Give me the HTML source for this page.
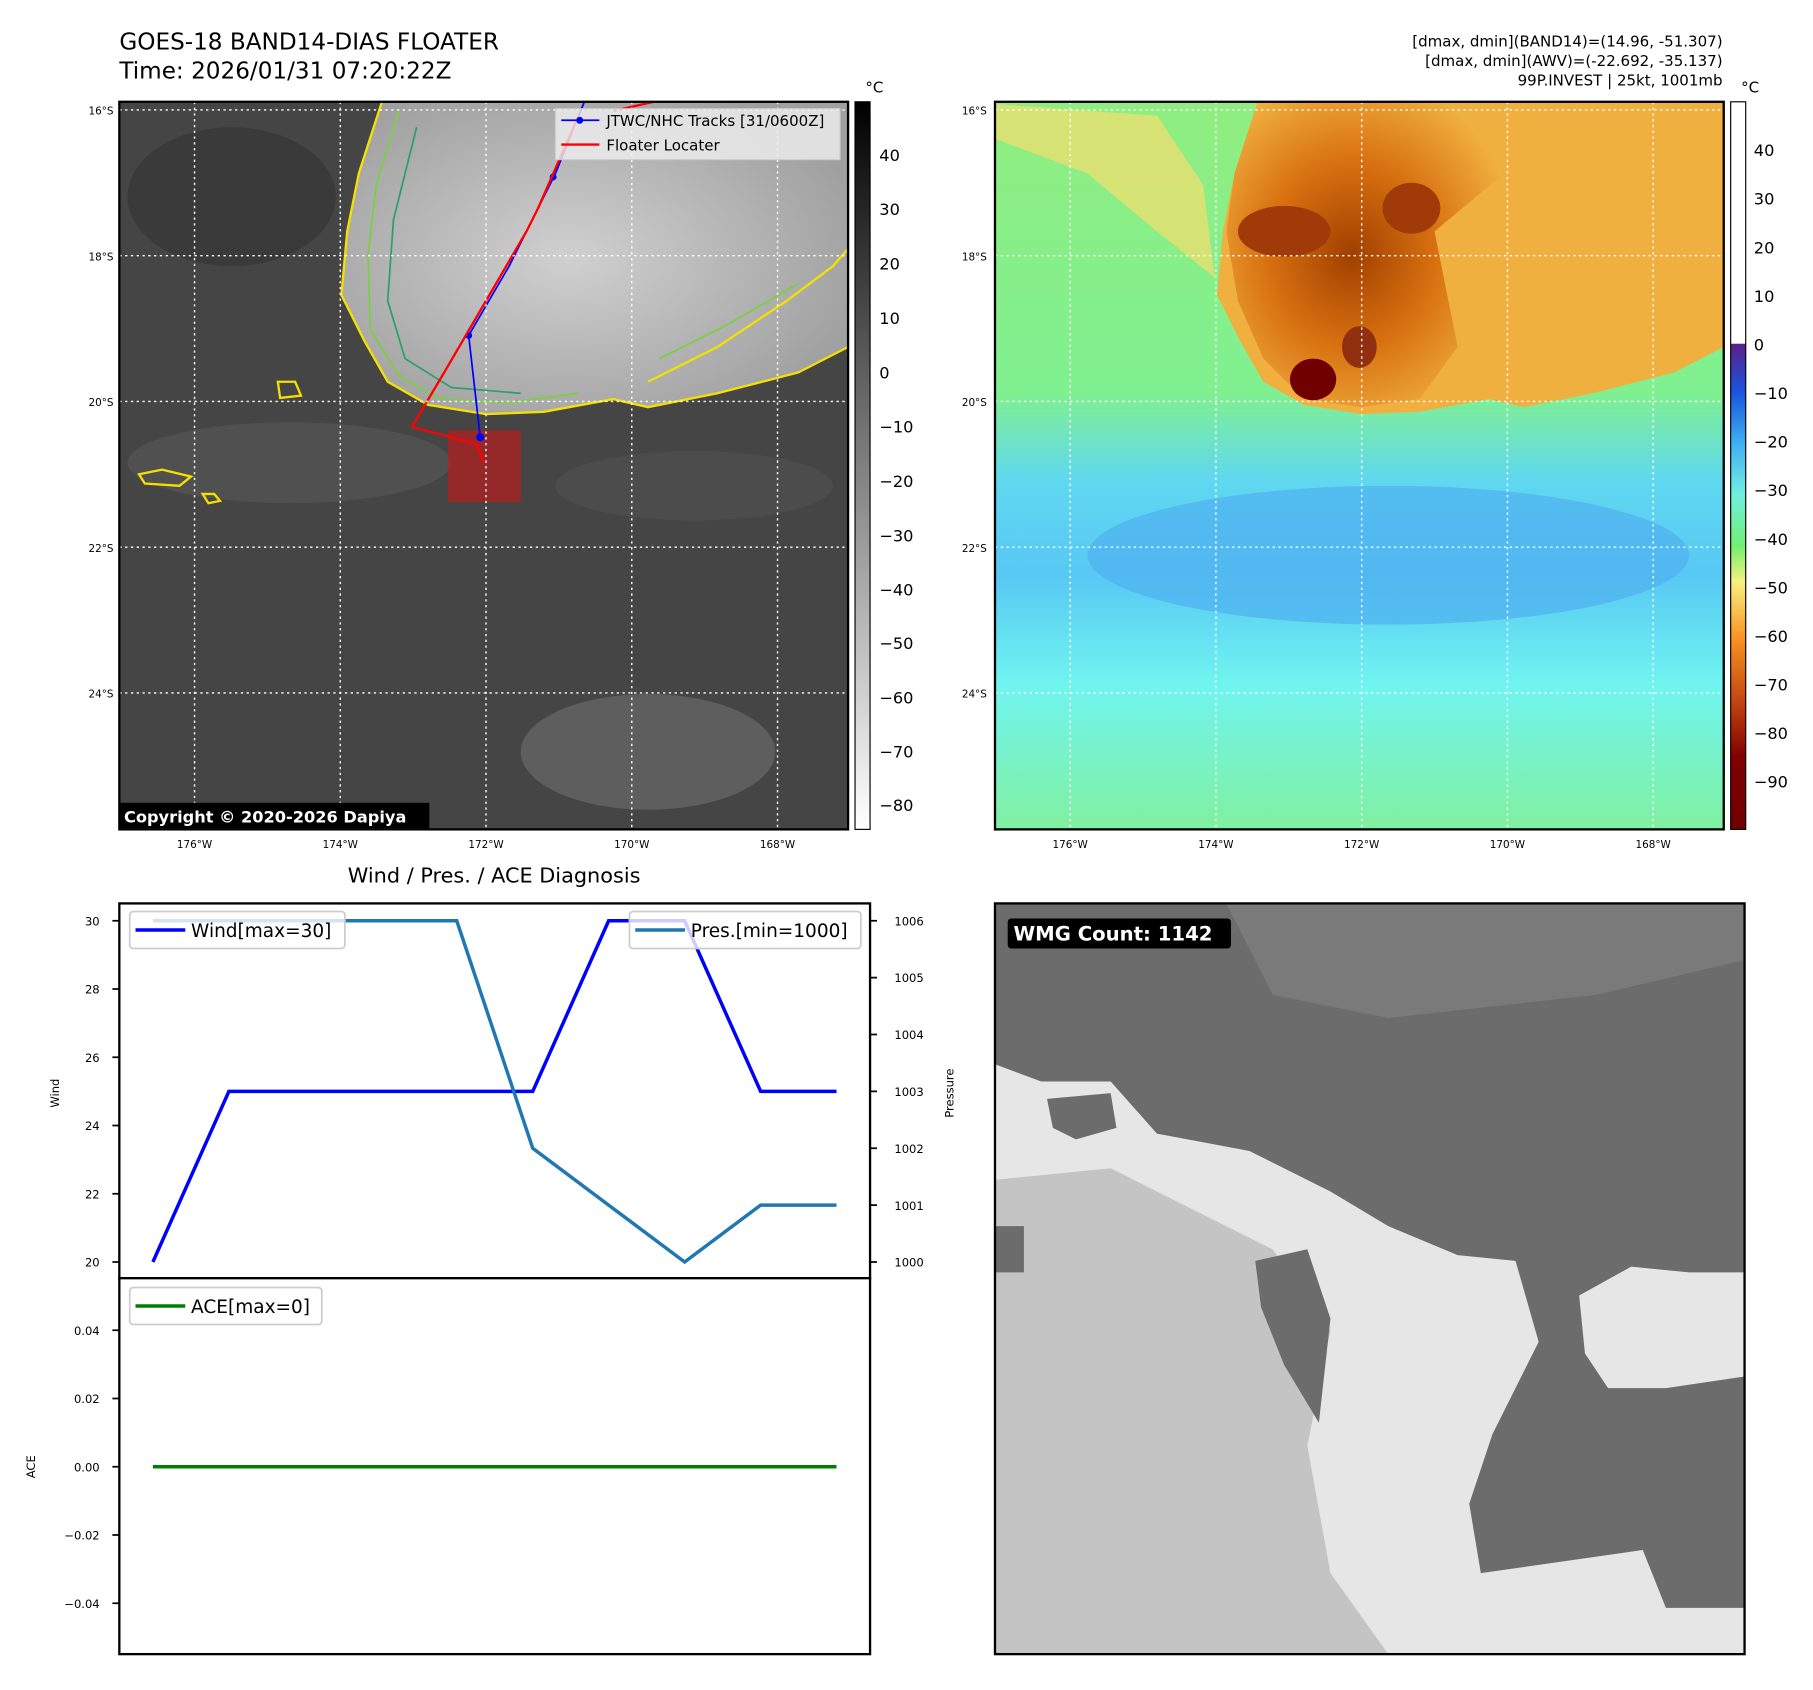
<!DOCTYPE html>
<html><head><meta charset="utf-8"><style>
html,body{margin:0;padding:0;background:#fff}
svg{display:block;font-family:"DejaVu Sans","Liberation Sans",sans-serif}
</style></head><body>
<svg width="1813" height="1690" viewBox="0 0 1567 1461" xmlns="http://www.w3.org/2000/svg">
<defs>
<linearGradient id="gcb" x1="0" y1="0" x2="0" y2="1"><stop offset="0" stop-color="#000"/><stop offset="1" stop-color="#fff"/></linearGradient>
<linearGradient id="ccb" x1="0" y1="0" x2="0" y2="1">
<stop offset="0" stop-color="#fff"/><stop offset="0.332" stop-color="#fff"/><stop offset="0.333" stop-color="#5a1f8a"/>
<stop offset="0.40" stop-color="#1a55e0"/><stop offset="0.47" stop-color="#3fb0f0"/><stop offset="0.54" stop-color="#70f0e0"/>
<stop offset="0.61" stop-color="#70f070"/><stop offset="0.66" stop-color="#f8f080"/><stop offset="0.74" stop-color="#f89020"/>
<stop offset="0.83" stop-color="#c04010"/><stop offset="0.9" stop-color="#800000"/><stop offset="1" stop-color="#700000"/></linearGradient>
<linearGradient id="m2bg" x1="0" y1="0" x2="0" y2="1">
<stop offset="0" stop-color="#90ee80"/><stop offset="0.4" stop-color="#80f090"/><stop offset="0.52" stop-color="#60d8f0"/>
<stop offset="0.65" stop-color="#58c8f4"/><stop offset="0.8" stop-color="#70f4f0"/><stop offset="1" stop-color="#80f0a0"/></linearGradient>
<radialGradient id="storm2" cx="0.45" cy="0.5" r="0.6"><stop offset="0" stop-color="#a04000"/><stop offset="0.5" stop-color="#d87010"/><stop offset="1" stop-color="#f0b040"/></radialGradient>
<radialGradient id="storm1" cx="0.45" cy="0.5" r="0.6"><stop offset="0" stop-color="#d0d0d0"/><stop offset="1" stop-color="#a0a0a0"/></radialGradient>
</defs>

<text x="103" y="43" font-size="20">GOES-18 BAND14-DIAS FLOATER</text>
<text x="103" y="68" font-size="20">Time: 2026/01/31 07:20:22Z</text>
<g font-size="13" text-anchor="end">
<text x="1489" y="40">[dmax, dmin](BAND14)=(14.96, -51.307)</text>
<text x="1489" y="57">[dmax, dmin](AWV)=(-22.692, -35.137)</text>
<text x="1489" y="74">99P.INVEST | 25kt, 1001mb</text>
</g>

<g>
<rect x="103" y="88" width="630" height="629" fill="#454545"/>
<ellipse cx="200" cy="170" rx="90" ry="60" fill="#3a3a3a"/>
<ellipse cx="560" cy="650" rx="110" ry="50" fill="#5e5e5e"/>
<ellipse cx="250" cy="400" rx="140" ry="35" fill="#505050"/>
<ellipse cx="600" cy="420" rx="120" ry="30" fill="#4c4c4c"/>
<polygon points="330,88 310,150 300,200 295,255 315,295 335,330 370,350 420,358 470,356 530,345 560,352 620,340 690,322 733,300 733,88" fill="url(#storm1)"/>
<polyline points="330,88 310,150 300,200 295,255 315,295 335,330 370,350 420,358 470,356 530,345 560,352 620,340 690,322 733,300" fill="none" stroke="#f5e000" stroke-width="2"/>
<polyline points="345,95 325,160 318,220 320,285 345,325 380,345 440,348 500,340" fill="none" stroke="#7ad040" stroke-width="1.5"/>
<polyline points="360,110 340,190 335,260 350,310 390,335 450,340" fill="none" stroke="#2aa070" stroke-width="1.5"/>
<polyline points="560,330 620,300 680,260 720,230 733,215" fill="none" stroke="#f5e000" stroke-width="2"/>
<polyline points="570,310 630,280 690,245" fill="none" stroke="#7ad040" stroke-width="1.5"/>
<path d="M120,410 l20,-4 l25,6 l-10,8 l-30,-2z M175,427 l10,0 l5,6 l-10,2z M240,330 l15,0 l5,12 l-18,2z" fill="none" stroke="#f5e000" stroke-width="2"/>
<rect x="387" y="372" width="63" height="62" fill="#c01818" fill-opacity="0.65"/>
<polyline points="505,88 480,150 440,230 405,290 415,378" fill="none" stroke="#0000ff" stroke-width="1.5"/>
<circle cx="478" cy="153" r="3" fill="#0000ff"/><circle cx="405" cy="290" r="3" fill="#0000ff"/><circle cx="415" cy="378" r="3.5" fill="#0000ff"/>
<polyline points="500,100 465,180 455,200 420,260 385,320 356,369 412,384 418,400" fill="none" stroke="#ff0000" stroke-width="2"/>
<polyline points="565,88 530,96" fill="none" stroke="#ff0000" stroke-width="2"/>
<g stroke="#fff" stroke-width="1.2" stroke-dasharray="2,3">
<line x1="168" y1="88" x2="168" y2="717"/><line x1="294" y1="88" x2="294" y2="717"/><line x1="420" y1="88" x2="420" y2="717"/><line x1="546" y1="88" x2="546" y2="717"/><line x1="672" y1="88" x2="672" y2="717"/>
<line x1="103" y1="95" x2="733" y2="95"/><line x1="103" y1="221" x2="733" y2="221"/><line x1="103" y1="347" x2="733" y2="347"/><line x1="103" y1="473" x2="733" y2="473"/><line x1="103" y1="599" x2="733" y2="599"/>
</g>
<rect x="480" y="94" width="246" height="44" fill="#f0f0f0" fill-opacity="0.8" stroke="#ccc"/>
<line x1="485" y1="104" x2="518" y2="104" stroke="#0000ff" stroke-width="1.5"/><circle cx="501" cy="104" r="3" fill="#0000ff"/>
<text x="524" y="109" font-size="13">JTWC/NHC Tracks [31/0600Z]</text>
<line x1="485" y1="125" x2="518" y2="125" stroke="#ff0000" stroke-width="2"/>
<text x="524" y="130" font-size="13">Floater Locater</text>
<rect x="103" y="694" width="268" height="22" fill="#000"/>
<text x="107" y="711" font-size="14" font-weight="bold" fill="#fff">Copyright © 2020-2026 Dapiya</text>
<rect x="103" y="88" width="630" height="629" fill="none" stroke="#000" stroke-width="2"/>
</g>
<g font-size="9">
<text x="98" y="99" text-anchor="end">16°S</text><text x="98" y="225" text-anchor="end">18°S</text><text x="98" y="351" text-anchor="end">20°S</text><text x="98" y="477" text-anchor="end">22°S</text><text x="98" y="603" text-anchor="end">24°S</text>
<text x="168" y="733" text-anchor="middle">176°W</text><text x="294" y="733" text-anchor="middle">174°W</text><text x="420" y="733" text-anchor="middle">172°W</text><text x="546" y="733" text-anchor="middle">170°W</text><text x="672" y="733" text-anchor="middle">168°W</text>
</g>
<g>
<rect x="739" y="88" width="13" height="629" fill="url(#gcb)" stroke="#000" stroke-width="1"/>
<text x="748" y="80" font-size="13">°C</text>
<g font-size="14">
<text x="760" y="139">40</text><text x="760" y="186">30</text><text x="760" y="233">20</text><text x="760" y="280">10</text><text x="760" y="327">0</text>
<text x="760" y="374">−10</text><text x="760" y="421">−20</text><text x="760" y="468">−30</text><text x="760" y="515">−40</text><text x="760" y="561">−50</text><text x="760" y="608">−60</text><text x="760" y="655">−70</text><text x="760" y="701">−80</text>
</g></g>

<g>
<rect x="860" y="88" width="630" height="629" fill="url(#m2bg)"/>
<ellipse cx="1200" cy="480" rx="260" ry="60" fill="#4eb0f0" fill-opacity="0.7"/>
<polygon points="1087,88 1067,150 1057,200 1052,255 1072,295 1092,330 1127,350 1177,358 1227,356 1287,345 1317,352 1377,340 1447,322 1490,300 1490,88" fill="#f0b040"/>
<polygon points="1087,88 1067,150 1060,200 1070,260 1092,310 1127,345 1177,352 1227,345 1260,300 1240,200 1300,150 1260,88" fill="url(#storm2)"/>
<polygon points="860,120 940,150 1000,200 1050,240 1040,160 1000,100 860,90" fill="#e8e070" fill-opacity="0.8"/>
<ellipse cx="1135" cy="328" rx="20" ry="18" fill="#700000"/>
<ellipse cx="1175" cy="300" rx="15" ry="18" fill="#903010"/>
<ellipse cx="1110" cy="200" rx="40" ry="22" fill="#a03a08"/>
<ellipse cx="1220" cy="180" rx="25" ry="22" fill="#a03a08"/>
<g stroke="#fff" stroke-width="1.2" stroke-dasharray="2,3">
<line x1="925" y1="88" x2="925" y2="717"/><line x1="1051" y1="88" x2="1051" y2="717"/><line x1="1177" y1="88" x2="1177" y2="717"/><line x1="1303" y1="88" x2="1303" y2="717"/><line x1="1429" y1="88" x2="1429" y2="717"/>
<line x1="860" y1="95" x2="1490" y2="95"/><line x1="860" y1="221" x2="1490" y2="221"/><line x1="860" y1="347" x2="1490" y2="347"/><line x1="860" y1="473" x2="1490" y2="473"/><line x1="860" y1="599" x2="1490" y2="599"/>
</g>
<rect x="860" y="88" width="630" height="629" fill="none" stroke="#000" stroke-width="2"/>
</g>
<g font-size="9">
<text x="853" y="99" text-anchor="end">16°S</text><text x="853" y="225" text-anchor="end">18°S</text><text x="853" y="351" text-anchor="end">20°S</text><text x="853" y="477" text-anchor="end">22°S</text><text x="853" y="603" text-anchor="end">24°S</text>
<text x="925" y="733" text-anchor="middle">176°W</text><text x="1051" y="733" text-anchor="middle">174°W</text><text x="1177" y="733" text-anchor="middle">172°W</text><text x="1303" y="733" text-anchor="middle">170°W</text><text x="1429" y="733" text-anchor="middle">168°W</text>
</g>
<g>
<rect x="1496" y="88" width="13" height="629" fill="url(#ccb)" stroke="#000" stroke-width="1"/>
<text x="1505" y="80" font-size="13">°C</text>
<g font-size="14">
<text x="1516" y="135">40</text><text x="1516" y="177">30</text><text x="1516" y="219">20</text><text x="1516" y="261">10</text><text x="1516" y="303">0</text>
<text x="1516" y="345">−10</text><text x="1516" y="387">−20</text><text x="1516" y="429">−30</text><text x="1516" y="471">−40</text><text x="1516" y="513">−50</text><text x="1516" y="555">−60</text><text x="1516" y="597">−70</text><text x="1516" y="639">−80</text><text x="1516" y="681">−90</text>
</g></g>

<text x="427" y="763" font-size="18" text-anchor="middle">Wind / Pres. / ACE Diagnosis</text>
<g id="chart">
<rect x="103" y="781" width="649" height="324" fill="#fff" stroke="#000" stroke-width="2"/>
<rect x="103" y="1105" width="649" height="325" fill="#fff" stroke="#000" stroke-width="2"/>
<text transform="translate(51,945) rotate(-90)" font-size="10" text-anchor="middle">Wind</text>
<text transform="translate(824,945) rotate(-90)" font-size="10" text-anchor="middle">Pressure</text>
<text transform="translate(30,1268) rotate(-90)" font-size="10" text-anchor="middle">ACE</text>
</g>

<g>
<rect x="860" y="781" width="648" height="649" fill="#6c6c6c"/>
<polygon points="1060,781 1508,781 1508,830 1380,860 1200,880 1100,860" fill="#7a7a7a"/>
<polygon points="860,920 900,935 960,935 1000,980 1080,995 1150,1030 1200,1060 1260,1085 1310,1090 1330,1160 1290,1240 1270,1300 1280,1360 1420,1340 1440,1390 1508,1390 1508,1430 860,1430" fill="#e6e6e6"/>
<polygon points="860,1020 960,1010 1040,1050 1100,1080 1150,1150 1130,1250 1150,1360 1200,1430 860,1430" fill="#c4c4c4"/>
<polygon points="1085,1090 1130,1080 1150,1140 1140,1230 1110,1180 1090,1130" fill="#6c6c6c"/>
<polygon points="860,1060 885,1060 885,1100 860,1100" fill="#6c6c6c"/>
<polygon points="905,950 960,945 965,975 930,985 910,975" fill="#6c6c6c"/>
<polygon points="1365,1120 1410,1095 1460,1100 1508,1100 1508,1190 1440,1200 1390,1200 1370,1170" fill="#e6e6e6"/>
<rect x="860" y="781" width="648" height="649" fill="none" stroke="#000" stroke-width="2"/>
<rect x="871" y="794" width="193" height="26" rx="3" fill="#000"/>
<text x="876" y="813" font-size="17" font-weight="bold" fill="#fff">WMG Count: 1142</text>
</g>

<script>
const times = [0,1,2,3,4,5,6,7,8,9];
const windVals = [20,25,25,25,25,25,30,30,25,25];
const presVals = [1006,1006,1006,1006,1006,1002,1001,1000,1001,1001];
const aceVals = [0,0,0,0,0,0,0,0,0,0];
const windTicks = [20,22,24,26,28,30];
const presTicks = [1000,1001,1002,1003,1004,1005,1006];
const aceTicks = [-0.04,-0.02,0.00,0.02,0.04];

(function(){
  const NS='http://www.w3.org/2000/svg';
  const g=document.getElementById('chart');
  const xs=t=>132+t*65.67;
  const yW=v=>1091-(v-20)*29.5;
  const yP=v=>1091-(v-1000)*49.17;
  const yA=v=>1268-v*2950;
  function mk(tag,attrs,txt){const e=document.createElementNS(NS,tag);for(const k in attrs)e.setAttribute(k,attrs[k]);if(txt!==undefined)e.textContent=txt;g.appendChild(e);return e;}
  windTicks.forEach(v=>{const y=yW(v);
    const l=mk('line',{x1:97,x2:103,y1:y,y2:y,stroke:'#000','stroke-width':1.5});
    
    
    const t=mk('text',{x:86,y:y+4,'font-size':10,'text-anchor':'end'},String(v));
    
    });
  presTicks.forEach(v=>{const y=yP(v);
    const l=mk('line',{x1:752,x2:758,y1:y,y2:y,stroke:'#000','stroke-width':1.5});
    
    
    const t=mk('text',{x:773,y:y+4,'font-size':10},String(v));
    
    });
  aceTicks.forEach(v=>{const y=yA(v);
    const l=mk('line',{x1:97,x2:103,y1:y,y2:y,stroke:'#000','stroke-width':1.5});
    
    
    const t=mk('text',{x:86,y:y+4,'font-size':10,'text-anchor':'end'},(v<0?'\u2212':'')+Math.abs(v).toFixed(2));
    
    });
  const pts=(arr,f)=>arr.map((v,i)=>xs(times[i]).toFixed(1)+','+f(v).toFixed(1)).join(' ');
  const w=mk('polyline',{points:pts(windVals,yW),fill:'none',stroke:'#0000ff','stroke-width':3});
  
  
  const p=mk('polyline',{points:pts(presVals,yP),fill:'none',stroke:'#1f77b4','stroke-width':3});
  
  
  const a=mk('polyline',{points:pts(aceVals,yA),fill:'none',stroke:'#008000','stroke-width':3});
  
  
  const lw=Math.max(...windVals), lp=Math.min(...presVals), la=Math.max(...aceVals);
  const legs=[[112,788,186,'#0000ff','Wind[max='+lw+']','wind-legend'],[544,788,200,'#1f77b4','Pres.[min='+lp+']','pressure-legend'],[112,1113,166,'#008000','ACE[max='+la+']','ace-legend']];
  legs.forEach(L=>{
    const r=mk('rect',{x:L[0],y:L[1],width:L[2],height:32,rx:3,fill:'#fff','fill-opacity':0.8,stroke:'#ccc','stroke-width':1.5});
    
    
    mk('line',{x1:L[0]+5,x2:L[0]+48,y1:L[1]+16,y2:L[1]+16,stroke:L[3],'stroke-width':3});
    mk('text',{x:L[0]+53,y:L[1]+22,'font-size':16},L[4]);
  });
})();
</script>
</svg>
</body></html>
